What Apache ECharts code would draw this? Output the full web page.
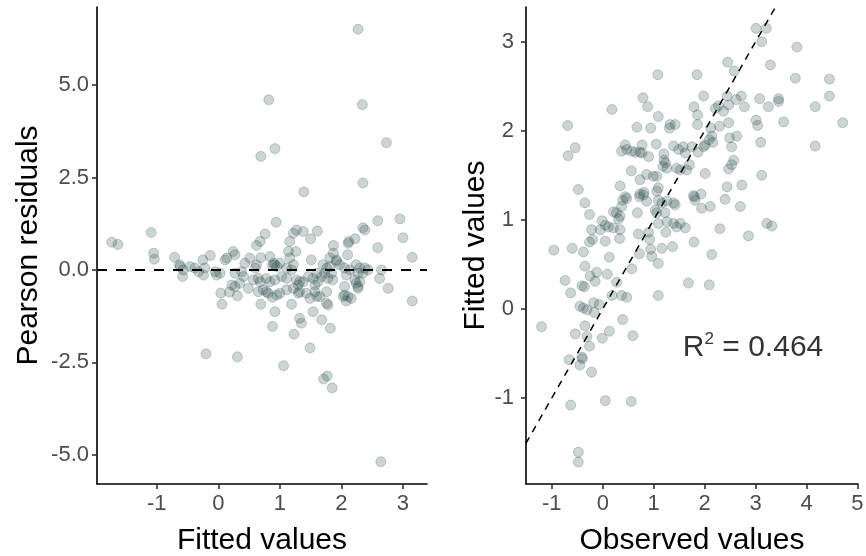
<!DOCTYPE html>
<html>
<head>
<meta charset="utf-8">
<script src="https://cdn.jsdelivr.net/npm/echarts@6/dist/echarts.min.js"></script>
<style>
  html, body { margin: 0; padding: 0; background: #fff; }
  #main { width: 866px; height: 556px; }
</style>
</head>
<body>
<div id="main"></div>
<script>
// left panel: Pearson residuals against fitted values
var leftFitted = [2.27,0.82,2.34,0.92,0.69,2.73,1.39,2.35,-0.20,0.31,1.06,1.49,1.23,1.82,0.88,1.77,1.71,1.85,2.64,
  -1.73,-1.63,-1.09,-1.05,-1.04,-0.71,-0.63,
  0.94,0.76,0.68,0.62,1.27,1.22,1.16,1.14,1.26,-0.13,-0.25,0.24,0.27,0.14,0.11,0.51,0.69,0.84,0.92,0.90,0.95,0.88,
  1.00,1.16,1.22,1.19,1.11,-0.62,-0.57,-0.58,-0.46,-0.38,-0.32,-0.24,-0.22,-0.05,-0.03,0.03,0.27,0.38,0.41,0.60,0.62,
  0.57,0.65,0.68,0.78,0.84,0.92,1.03,1.11,0.22,0.27,0.35,0.49,0.65,0.73,0.78,0.81,0.95,1.00,1.11,1.22,0.04,0.18,0.31,
  0.06,0.69,0.92,1.19,0.43,
  2.59,2.95,2.35,2.38,3.00,1.61,1.38,1.50,2.12,2.11,2.22,1.87,1.87,2.59,2.10,1.51,1.81,1.92,3.15,
  1.70,1.76,1.81,1.73,1.84,1.68,1.78,1.86,1.92,1.97,2.05,2.14,2.08,2.24,2.30,2.27,2.38,2.35,2.43,2.22,2.27,2.30,
  2.65,2.62,2.76,3.15,1.38,1.46,1.54,1.60,1.62,1.57,1.32,1.43,1.57,1.60,1.49,1.65,1.76,1.76,1.78,
  2.05,2.05,2.03,2.11,2.16,2.08,2.24,2.27,1.54,1.68,1.35,1.32,1.27,1.32,1.30,1.30,0.88];
var leftResid = [6.51,4.60,4.47,3.28,3.07,3.44,2.11,2.35,-2.27,-2.35,-2.59,-2.11,-1.74,-1.58,-1.53,-2.87,-2.95,-3.19,-5.19,
  0.75,0.69,1.01,0.45,0.29,0.34,0.14,
  1.29,0.97,0.77,0.66,1.08,0.99,0.77,0.50,0.50,0.39,0.27,0.50,0.41,0.32,0.27,0.32,0.33,0.36,0.14,0.18,0.09,0.12,
  0.18,0.32,0.14,0.00,0.05,0.09,0.00,-0.18,0.09,0.05,-0.05,-0.14,0.05,-0.05,-0.14,-0.09,-0.09,-0.05,-0.18,0.05,0.14,
  -0.27,-0.23,-0.32,-0.23,-0.32,-0.27,-0.18,-0.23,-0.41,-0.45,-0.36,-0.50,-0.59,-0.54,-0.59,-0.63,-0.68,-0.63,-0.54,-0.50,-0.63,-0.60,-0.70,
  -0.93,-0.93,-1.13,-0.93,0.18,
  1.33,1.38,1.14,1.08,0.87,1.05,1.04,0.84,0.77,0.72,0.84,0.66,0.45,0.60,0.41,0.27,0.32,0.27,0.34,
  0.14,0.05,0.09,-0.09,-0.09,-0.18,-0.23,-0.27,0.23,0.14,0.05,0.00,-0.14,0.14,0.05,-0.09,0.05,-0.09,0.00,-0.27,-0.45,-0.32,
  0.00,-0.23,-0.50,-0.84,-0.32,-0.18,-0.23,-0.09,-0.32,-0.41,-0.59,-0.63,-0.59,-0.72,-0.77,-0.72,-0.59,-0.90,-0.95,
  -0.45,-0.68,-0.72,-0.72,-0.77,-0.84,-0.36,-0.50,-1.13,-1.35,-1.44,-1.31,-0.27,-0.32,-0.41,-0.63,-0.74];

// right panel: fitted values against observed values
var observed = [3.01,3.21,3.12,3.81,2.45,2.58,3.29,1.08,1.85,3.78,4.45,4.45,4.17,4.71,4.17,3.55,3.45,3.45,3.08,3.25,
  3.01,3.04,3.10,3.12,2.73,2.44,2.40,2.57,2.53,2.47,2.63,2.49,2.53,2.47,2.44,2.62,2.72,2.78,2.27,2.37,
  2.21,2.29,2.12,2.14,2.09,2.16,1.98,1.79,1.86,1.86,2.01,1.98,1.87,2.01,1.78,1.93,1.70,1.58,1.62,1.75,
  1.45,1.52,1.65,1.39,1.32,1.42,1.31,1.20,1.20,1.23,1.18,1.26,1.06,0.99,1.09,1.06,0.77,0.77,0.90,1.05,
  1.09,0.94,0.67,0.79,0.88,0.18,0.44,0.47,0.37,0.57,0.64,0.73,0.56,0.73,0.86,0.34,0.44,0.73,0.81,-0.69,
  -0.54,-0.68,-0.48,
  0.39,0.47,-0.35,-0.26,0.21,0.27,0.34,0.31,-0.01,-0.05,0.05,0.11,0.21,-0.22,0.05,0.34,0.33,-0.20,-0.26,-0.96,
  -0.60,-0.38,0.13,-0.35,0.57,-0.25,-0.12,0.09,-0.74,-0.15,0.27,-0.63,-0.41,-0.36,0.18,0.37,0.47,1.09,1.68,2.09,
  -0.45,-0.38,-0.31,-0.18,-0.07,-0.17,-1.20,-0.35,-0.31,-0.54,-0.26,-0.01,0.13,0.39,0.59,-0.66,-0.41,
  0.72,0.80,0.86,1.09,1.16,1.26,1.39,1.42,0.68,1.03,1.06,1.22,1.09,1.26,1.39,1.45,1.52,1.62,0.70,0.90,
  0.92,1.24,0.94,1.16,1.37,1.79,0.72,0.96,1.09,1.81,1.94,2.11,2.70,2.30,2.14,2.86,3.22,3.32,
  -0.45,-0.40,-0.22,-0.63,0.05,0.56,-0.48,-0.48,0.37,2.47,1.49,1.80];
var fitted = [3.15,3.15,3.00,2.94,2.77,2.67,2.74,2.63,2.63,2.59,2.58,2.39,2.27,2.09,1.83,2.10,2.36,2.33,2.36,2.27,
  2.12,2.06,1.87,1.50,1.39,1.37,1.23,1.67,1.62,1.57,1.94,1.92,1.82,2.09,2.39,2.35,2.39,2.27,2.28,2.22,
  2.25,2.05,2.03,1.94,1.90,1.87,2.39,2.27,2.18,2.07,1.84,1.82,1.76,1.52,1.27,1.29,1.62,1.82,1.75,1.82,
  1.58,1.56,1.56,1.83,2.07,2.07,2.03,1.74,1.67,1.64,1.60,1.58,1.49,1.49,1.36,1.32,1.84,1.75,1.71,1.85,
  2.16,2.03,2.04,2.37,2.27,2.24,1.84,1.79,1.77,1.77,1.76,1.76,1.55,1.45,1.51,1.38,1.26,1.29,1.31,2.06,
  1.81,1.72,1.34,
  1.22,1.24,1.19,1.06,1.09,1.08,1.04,1.01,0.99,0.89,0.94,0.92,0.91,0.89,0.76,0.89,0.79,0.78,0.75,0.66,
  0.68,0.64,0.58,0.48,0.45,0.37,0.41,0.39,0.32,0.31,0.30,0.18,0.26,0.25,0.15,0.15,0.13,0.15,0.29,0.27,
  0.03,0.01,-0.01,0.07,0.05,-0.04,-0.20,-0.19,-0.31,-0.28,-0.42,-0.33,-0.25,-0.12,-0.30,-0.57,-0.54,
  1.26,1.28,1.21,1.22,1.19,1.21,1.19,1.17,1.08,1.11,1.08,1.08,0.96,0.98,0.96,0.92,0.96,0.91,0.84,0.86,
  0.78,0.86,0.67,0.68,0.70,0.75,0.62,0.59,0.51,1.22,1.13,1.15,1.15,0.90,0.61,0.82,0.96,0.93,
  -0.63,-0.56,-0.71,-1.08,-1.03,-1.04,-1.61,-1.72,1.15,2.29,1.79,1.26];

// reference lines and tick labels
var zeroLineX = [-1.97, 3.39];
var zeroLineY = [0, 0];
var identityLine = [-1.51, 3.39];
var leftXTicks = [-1, 0, 1, 2, 3];
var leftYTicks = [-5, -2.5, 0, 2.5, 5];
var rightXTicks = [-1, 0, 1, 2, 3, 4, 5];
var rightYTicks = [-1, 0, 1, 2, 3];
var r2Value = 0.464;
var r2Pos = [2.95, -0.44];

var FONT = '"Liberation Sans", Arial, sans-serif';
var PT_FILL = 'rgba(47,79,79,0.3)';

function makeAxis(grid, min, max, ticks, name, nameGap, fmt, labelMargin) {
  return {
    type: 'value', gridIndex: grid, min: min, max: max,
    name: name, nameLocation: 'middle', nameGap: nameGap,
    nameTextStyle: { fontFamily: FONT, fontSize: 30, color: '#000' },
    splitLine: { show: false },
    axisLine: { onZero: false, lineStyle: { color: '#000', width: 1.6 } },
    axisTick: { customValues: ticks, length: 5, lineStyle: { color: '#333', width: 1.6 } },
    axisLabel: { customValues: ticks, color: '#4D4D4D', fontFamily: FONT, fontSize: 22,
      margin: labelMargin, formatter: fmt }
  };
}

function pairs(xs, ys) {
  return xs.map(function (x, i) { return [x, ys[i]]; });
}

var myChart = echarts.init(document.getElementById('main'));

var option = {
  animation: false,
  backgroundColor: '#fff',
  grid: [
    { left: 97, right: 439, top: 7, bottom: 72, outerBoundsMode: 'none', containLabel: false },
    { left: 526, right: 8, top: 7, bottom: 72, outerBoundsMode: 'none', containLabel: false }
  ],
  xAxis: [
    makeAxis(0, -1.97, 3.39, leftXTicks, 'Fitted values', 42, function (v) { return String(v); }, 9),
    makeAxis(1, -1.507, 5.01, rightXTicks, 'Observed values', 42, function (v) { return String(v); }, 9)
  ],
  yAxis: [
    makeAxis(0, -5.79, 7.11, leftYTicks, 'Pearson residuals', 53, function (v) { return v.toFixed(1); }, 8),
    makeAxis(1, -1.966, 3.39, rightYTicks, 'Fitted values', 34, function (v) { return String(v); }, 12)
  ],
  series: [
    {
      type: 'scatter', xAxisIndex: 0, yAxisIndex: 0, symbolSize: 10,
      itemStyle: { color: PT_FILL, borderColor: PT_FILL, borderWidth: 1 },
      emphasis: { disabled: true },
      data: pairs(leftFitted, leftResid)
    },
    {
      type: 'line', xAxisIndex: 0, yAxisIndex: 0, symbol: 'none', z: 5,
      lineStyle: { color: '#000', width: 2, type: [10, 9] },
      data: pairs(zeroLineX, zeroLineY)
    },
    {
      type: 'scatter', xAxisIndex: 1, yAxisIndex: 1, symbolSize: 10,
      itemStyle: { color: PT_FILL, borderColor: PT_FILL, borderWidth: 1 },
      emphasis: { disabled: true },
      data: pairs(observed, fitted)
    },
    {
      type: 'line', xAxisIndex: 1, yAxisIndex: 1, symbol: 'none', z: 5,
      lineStyle: { color: '#000', width: 1.5, type: [7, 6] },
      data: pairs(identityLine, identityLine)
    },
    {
      type: 'scatter', xAxisIndex: 1, yAxisIndex: 1, symbolSize: 0, z: 6,
      silent: true,
      label: {
        show: true, position: 'inside',
        formatter: '{a|R}{b|2}{a| = ' + r2Value.toFixed(3) + '}',
        rich: {
          a: { fontFamily: FONT, fontSize: 30, color: '#000', lineHeight: 34 },
          b: { fontFamily: FONT, fontSize: 17, color: '#000', verticalAlign: 'top', lineHeight: 34, padding: [0, 0, 16, 0] }
        }
      },
      data: [r2Pos]
    }
  ]
};

myChart.setOption(option);
</script>
</body>
</html>
